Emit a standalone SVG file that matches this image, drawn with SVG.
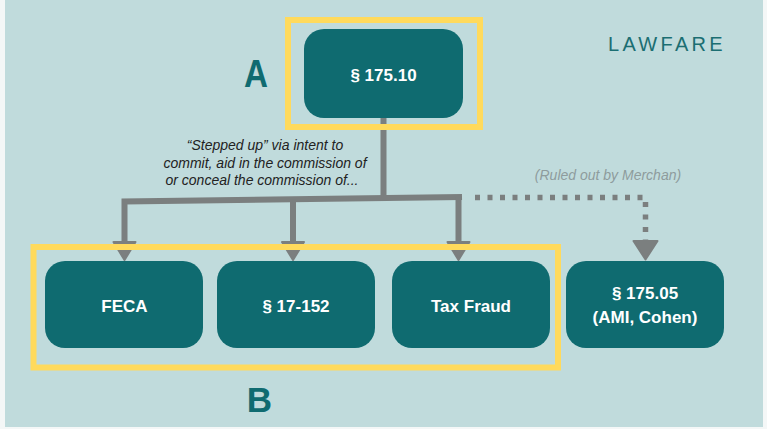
<svg xmlns="http://www.w3.org/2000/svg" width="767" height="429" viewBox="0 0 767 429">
<defs>
<style>
.bg{fill:#C0DBDC}
.box{fill:#0F6B70}
.hl{fill:none;stroke:#FFDA5C;stroke-width:6}
.lbl{font-family:"Liberation Sans",Arial,sans-serif;font-weight:bold;font-size:17px;fill:#FFFFFF;text-anchor:middle}
.big{font-family:"Liberation Sans",Arial,sans-serif;font-weight:bold;fill:#0F6B70;text-anchor:middle}
.note{font-family:"Liberation Sans",Arial,sans-serif;font-style:italic;font-size:14px;fill:#222222;text-anchor:middle}
.ruled{font-family:"Liberation Sans",Arial,sans-serif;font-style:italic;font-size:14px;fill:#8E9C9D;text-anchor:middle}
.ln{fill:none;stroke:#7B7F7F;stroke-width:6}
.dot{fill:none;stroke:#7B7F7F;stroke-width:5.5;stroke-dasharray:5 7.5}
</style>
<path id="ah" d="M-11,0 L11,0 L0,18 Z" fill="#7B7F7F" stroke="#7B7F7F" stroke-width="2" stroke-linejoin="round"/>
</defs>
<rect x="0" y="0" width="767" height="429" fill="#F4F7F7"/>
<rect class="bg" x="5" y="0" width="758" height="427"/>

<g id="connectors">
<path class="ln" d="M383.5,117 V199"/>
<path class="ln" d="M124.5,243 V201.5 L462,197"/>
<path class="ln" d="M293,199.2 V243"/>
<path class="ln" d="M458.5,197 V243"/>
<path class="dot" d="M475,197.5 H645.5 V241"/>
<use href="#ah" x="124.5" y="242"/>
<use href="#ah" x="293" y="242"/>
<use href="#ah" x="458.5" y="242"/>
<path d="M-12,0 L12,0 L0,18.5 Z" transform="translate(645.5,241)" fill="#7B7F7F" stroke="#7B7F7F" stroke-width="2" stroke-linejoin="round"/>
</g>

<g id="highlightA"><rect class="hl" x="288" y="20" width="192" height="107"/></g>
<g id="highlightB"><rect class="hl" x="33.5" y="247" width="524.5" height="120.5"/></g>

<g id="nodeA">
<rect class="box" x="304" y="29" width="159" height="89" rx="20"/>
<text class="lbl" x="383.5" y="81" font-size="18.5">§ 175.10</text>
</g>
<g id="nodeFECA">
<rect class="box" x="45" y="261" width="158" height="87" rx="20"/>
<text class="lbl" x="124.5" y="311.5">FECA</text>
</g>
<g id="node17152">
<rect class="box" x="217" y="261" width="158" height="87" rx="20"/>
<text class="lbl" x="296" y="311.5">§ 17-152</text>
</g>
<g id="nodeTax">
<rect class="box" x="392" y="261" width="158" height="87" rx="20"/>
<text class="lbl" x="471" y="311.5">Tax Fraud</text>
</g>
<g id="node17505">
<rect class="box" x="566" y="261" width="158" height="87" rx="20"/>
<text class="lbl" x="645" y="298.5">§ 175.05</text>
<text class="lbl" x="645" y="323">(AMI, Cohen)</text>
</g>

<g id="labels">
<text class="big" x="256" y="87" font-size="38" textLength="24" lengthAdjust="spacingAndGlyphs">A</text>
<text class="big" x="259.5" y="412" font-size="35">B</text>
<text class="note" x="265" y="150">“Stepped up” via intent to</text>
<text class="note" x="265" y="167.5">commit, aid in the commission of</text>
<text class="note" x="262" y="185">or conceal the commission of...</text>
<text class="ruled" x="608" y="180">(Ruled out by Merchan)</text>
<text x="608" y="50.5" font-family="'Liberation Sans',Arial,sans-serif" font-size="20" letter-spacing="3.3" fill="#1B6E72">LAWFARE</text>
</g>
</svg>
